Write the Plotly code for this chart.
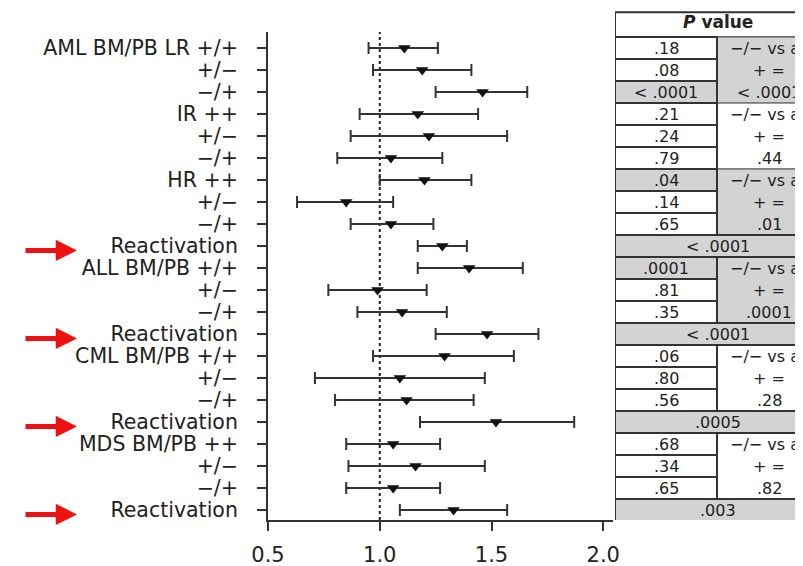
import plotly.graph_objects as go

# ---------------- data ----------------
labels = ["AML BM/PB LR +/+", "+/−", "−/+", "IR ++", "+/−", "−/+", "HR ++", "+/−", "−/+",
          "Reactivation",
          "ALL BM/PB +/+", "+/−", "−/+", "Reactivation",
          "CML BM/PB +/+", "+/−", "−/+", "Reactivation",
          "MDS BM/PB ++", "+/−", "−/+", "Reactivation"]
hr = [1.11, 1.19, 1.46, 1.17, 1.22, 1.05, 1.20, 0.85, 1.05, 1.28,
      1.40, 0.99, 1.10, 1.48, 1.29, 1.09, 1.12, 1.52, 1.06, 1.16, 1.06, 1.33]
ci_low = [0.95, 0.97, 1.25, 0.91, 0.87, 0.81, 1.00, 0.63, 0.87, 1.17,
          1.17, 0.77, 0.90, 1.25, 0.97, 0.71, 0.80, 1.18, 0.85, 0.86, 0.85, 1.09]
ci_high = [1.26, 1.41, 1.66, 1.44, 1.57, 1.28, 1.41, 1.06, 1.24, 1.39,
           1.64, 1.21, 1.30, 1.71, 1.60, 1.47, 1.42, 1.87, 1.27, 1.47, 1.27, 1.57]
x_ticks = [0.5, 1.0, 1.5, 2.0]
x_tick_text = ["0.5", "1.0", "1.5", "2.0"]
reference_value = 1.0

row_pvalues = [".18", ".08", "< .0001", ".21", ".24", ".79", ".04", ".14", ".65", "< .0001",
               ".0001", ".81", ".35", "< .0001", ".06", ".80", ".56", ".0005",
               ".68", ".34", ".65", ".003"]
row_shaded = [False, False, True, False, False, False, True, False, False, True,
              True, False, False, True, False, False, False, True,
              False, False, False, True]
full_width_rows = [10, 14, 18, 22]
group_first = [1, 4, 7, 11, 15, 19]
group_last = [3, 6, 9, 13, 17, 21]
group_pvalues = ["< .0001", ".44", ".01", ".0001", ".28", ".82"]
group_shaded = [True, False, True, True, False, False]
group_lines = ["−/− vs all", "+ ="]
table_title = "<b><i>P</i> value</b>"
arrow_label = "Reactivation"

# ---------------- layout geometry ----------------
# the page body has an 8px default margin; all target pixel positions are shifted by it
OFF = 8
W, H = 803 - OFF, 566 - OFF
L, R, T, B = 268 - OFF, 0, 10 - OFF, 46
pw, ph = W - L - R, H - T - B
plot_right_px, table_left_px = 613 - OFF, 615 - OFF
plot_top_px, plot_bottom_px = 32 - OFF, 520 - OFF
first_row_px, row_px = 48 - OFF, 22
px_per_unit = 223.5
table_width = 206
divider = 102

rows = list(range(1, len(labels) + 1))
y_top_main = 1 + (plot_top_px - first_row_px) / row_px
y_bottom = 1 + (plot_bottom_px - first_row_px) / row_px
y_top_table = 1 + (T - first_row_px) / row_px

FONT = "DejaVu Sans"
TXT = "#222222"
GRAY = "#d3d3d3"
LINE = "#333333"

fig = go.Figure()

fig.add_trace(go.Scatter(
    x=hr, y=rows, mode="markers",
    marker=dict(symbol="triangle-down", size=11, color="#111111"),
    error_x=dict(type="data", symmetric=False,
                 array=[h - p for h, p in zip(ci_high, hr)],
                 arrayminus=[p - l for p, l in zip(hr, ci_low)],
                 thickness=2, width=6, color=LINE),
    showlegend=False, hoverinfo="skip",
))
fig.add_trace(go.Scatter(x=[None], y=[None], xaxis="x2", yaxis="y2",
                         showlegend=False, hoverinfo="skip"))

shapes = []
# reference line
shapes.append(dict(type="line", xref="x", yref="y domain", x0=reference_value, x1=reference_value,
                   y0=0, y1=1, line=dict(color=TXT, width=2, dash="dot"), layer="below"))

# table header
shapes.append(dict(type="rect", xref="x2", yref="y2", x0=0, x1=table_width,
                   y0=y_top_table + 0.1, y1=0.5, fillcolor="white",
                   line=dict(color=LINE, width=2)))
annotations = [dict(xref="x2", yref="y2", x=table_width / 2, y=(y_top_table + 0.5) / 2 - 0.05,
                    text=table_title, showarrow=False,
                    font=dict(family=FONT, size=17, color=TXT))]

# group merged cells (right column)
for g0, g1, gp, gs in zip(group_first, group_last, group_pvalues, group_shaded):
    shapes.append(dict(type="rect", xref="x2", yref="y2", x0=divider, x1=table_width,
                       y0=g0 - 0.5, y1=g1 + 0.5, fillcolor=GRAY if gs else "white",
                       line=dict(color="#777777", width=1.5)))
    for k, t in enumerate(group_lines + [gp]):
        annotations.append(dict(xref="x2", yref="y2", x=(divider + table_width) / 2, y=g0 + k,
                                text=t, showarrow=False,
                                font=dict(family=FONT, size=16, color=TXT)))

# per-row cells
for r, pv, sh in zip(rows, row_pvalues, row_shaded):
    full = r in full_width_rows
    x1 = table_width if full else divider
    shapes.append(dict(type="rect", xref="x2", yref="y2", x0=0, x1=x1,
                       y0=r - 0.5, y1=r + 0.5, fillcolor=GRAY if sh else "white",
                       line=dict(color=LINE, width=2)))
    annotations.append(dict(xref="x2", yref="y2", x=x1 / 2, y=r, text=pv, showarrow=False,
                            font=dict(family=FONT, size=16, color=TXT)))

# divider line
shapes.append(dict(type="line", xref="x2", yref="y2", x0=divider, x1=divider,
                   y0=0.5, y1=y_bottom, line=dict(color=LINE, width=2.5), layer="below"))

# red arrows pointing to reactivation rows
for r, lab in zip(rows, labels):
    if lab == arrow_label:
        annotations.append(dict(xref="paper", yref="y", x=(77 - OFF - L) / pw, y=r + 0.2,
                                ax=-53, ay=0, text="", showarrow=True,
                                arrowhead=2, arrowsize=0.85, arrowwidth=5,
                                arrowcolor="#ee1111"))

fig.update_layout(
    width=W, height=H,
    margin=dict(l=L, r=R, t=T, b=B, pad=0, autoexpand=False),
    paper_bgcolor="white", plot_bgcolor="white",
    font=dict(family=FONT, color=TXT),
    shapes=shapes, annotations=annotations,
    xaxis=dict(domain=[0, (plot_right_px - L) / pw],
               range=[0.5, 0.5 + (plot_right_px - L) / px_per_unit],
               tickvals=x_ticks, ticktext=x_tick_text, ticks="outside", ticklen=9, tickwidth=2,
               tickcolor=LINE, showline=True, linecolor=LINE, linewidth=2, showgrid=False,
               zeroline=False, tickfont=dict(family=FONT, size=21, color=TXT),
               ticklabelstandoff=6, automargin=False, anchor="y"),
    yaxis=dict(domain=[0, (plot_bottom_px - plot_top_px) / ph], range=[y_bottom, y_top_main],
               tickvals=rows, ticktext=labels, ticks="outside", ticklen=9, tickwidth=1.5,
               tickcolor=LINE, showline=True, linecolor=LINE, linewidth=2, showgrid=False,
               zeroline=False, tickfont=dict(family=FONT, size=20.5, color=TXT),
               ticklabelstandoff=15, automargin=False, anchor="x"),
    xaxis2=dict(domain=[(table_left_px - L) / pw, 1], range=[0, W - table_left_px],
                visible=False, anchor="y2"),
    yaxis2=dict(domain=[0, 1], range=[y_bottom, y_top_table], visible=False, anchor="x2"),
)

fig.write_html("out.html")
